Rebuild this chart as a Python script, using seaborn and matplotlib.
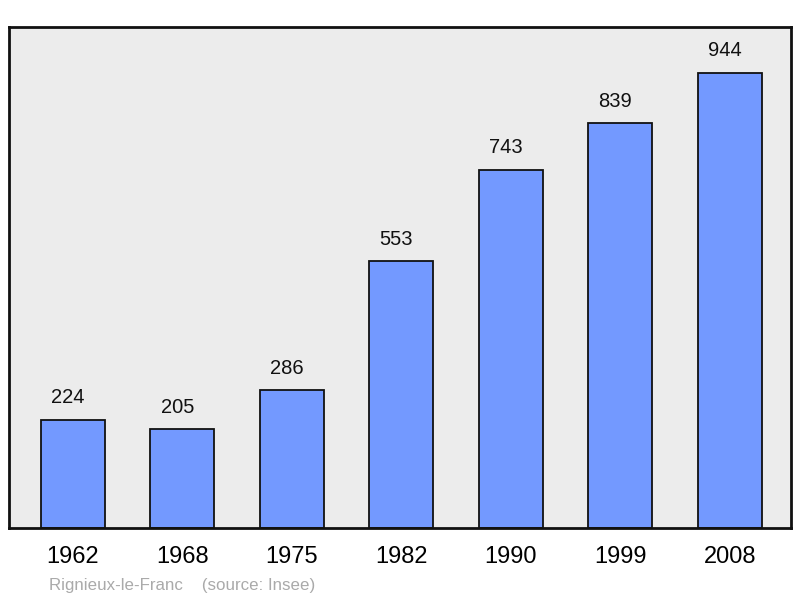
import matplotlib
matplotlib.use("Agg")
import matplotlib.pyplot as plt
import seaborn as sns
import pandas as pd

years = ["1962", "1968", "1975", "1982", "1990", "1999", "2008"]
population = [224, 205, 286, 553, 743, 839, 944]
footer = "Rignieux-le-Franc    (source: Insee)"

df = pd.DataFrame({"year": years, "pop": population})

sns.set_theme(style="white")
plt.rcParams["font.family"] = ["Liberation Sans", "DejaVu Sans"]

fig = plt.figure(figsize=(8, 5.98), dpi=100)
ax = fig.add_axes([9/800, 70/598, 782/800, 501/598])
ax.set_facecolor("#ececec")

sns.barplot(data=df, x="year", y="pop", ax=ax, color="#7399ff", saturation=1,
            width=0.584, edgecolor="#111111", linewidth=1.3)

ax.set_xlim(-0.584, 6.56)
ax.set_ylim(0, 1039)
ax.set_yticks([])
ax.set_xlabel("")
ax.set_ylabel("")
ax.tick_params(axis="x", length=0, labelsize=17, pad=13, colors="#000000")
for s in ax.spines.values():
    s.set_linewidth(2)
    s.set_color("#111111")

for i, v in enumerate(population):
    ax.annotate(str(v), (i, v), xytext=(-3.5, 9), textcoords="offset points",
                ha="center", va="bottom", fontsize=14.5, color="#111111")

fig.text(49/800, 1 - 590/598, footer, fontsize=12.2, color="#aaaaaa",
         ha="left", va="baseline")

fig.savefig("out.png", dpi=100, facecolor="white")
